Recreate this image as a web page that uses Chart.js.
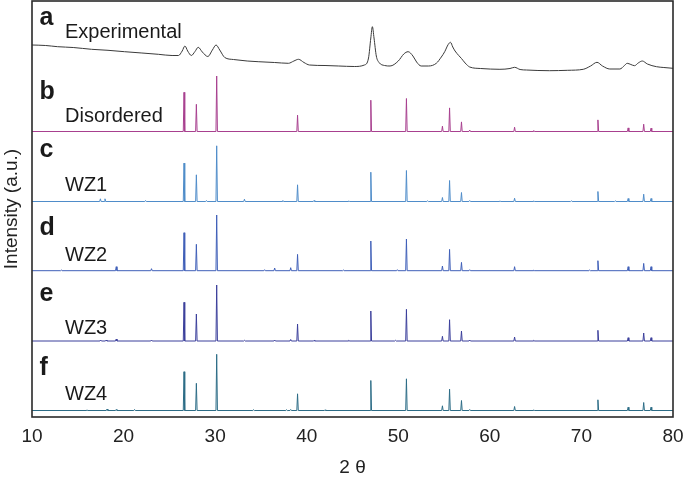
<!DOCTYPE html>
<html>
<head>
<meta charset="utf-8">
<script src="https://cdn.jsdelivr.net/npm/chart.js@4.4.0/dist/chart.umd.min.js"></script>
<style>
  body { margin: 0; background: #fff; }
  #chart { display: block; }
</style>
</head>
<body>
<canvas id="chart" width="685" height="480"></canvas>
<script>
// x ticks (2 theta, degrees)
const xTicks = [10, 20, 30, 40, 50, 60, 70, 80];

// Experimental pattern (a), intensity in a.u.
const expX = [10.0, 11.5, 12.8, 14.5, 16.5, 18.3, 20.1, 22.0, 23.8, 25.3, 26.0, 26.4, 26.7, 27.0, 27.4, 27.8, 28.15, 28.6, 29.2, 29.7,
  30.1, 30.5, 31.05, 32.0, 33.5, 34.7, 36.5, 38.0, 38.6, 39.1, 39.7, 40.3, 42.0, 43.5, 45.2, 46.3, 46.75, 47.0, 47.17, 47.35,
  47.6, 47.9, 48.5, 49.1, 50.0, 50.6, 51.07, 51.6, 52.0, 52.5, 53.3, 54.15, 54.7, 55.07, 55.45, 55.7, 55.95, 56.2, 56.6, 56.9,
  57.3, 57.8, 59.0, 61.1, 62.2, 62.7, 63.3, 64.0, 66.5, 68.5, 70.2, 71.0, 71.7, 72.3, 73.1, 74.2, 74.7, 75.0, 75.4, 75.8,
  76.2, 76.65, 77.2, 78.2, 79.0, 80.0];
const expY = [372, 371.5, 370.3, 369.5, 367.7, 366.7, 365.3, 364, 362.7, 361.5, 361.5, 366, 371, 366, 361.5, 365.5, 369.7, 365, 360.5, 367,
  372, 367, 359.5, 357.5, 356, 355.3, 354.5, 353.7, 356, 357.7, 354.5, 352, 351.5, 351, 350.5, 352, 359, 379, 390.3, 379,
  361, 354.5, 351.5, 351, 356, 363, 365.3, 361, 355, 351, 351, 353.7, 360, 365.3, 372.5, 374.7, 370, 366, 361.5, 358.5,
  354, 350, 348.5, 347.7, 348.5, 349.7, 347.5, 347, 346.3, 346.7, 347.7, 351, 354.7, 351, 348, 348, 351.5, 353.7, 352.5, 351.3,
  354, 356, 353, 350.3, 349.5, 348.7];

// Main reflections shared by the simulated patterns
const mainPeaks = [26.6, 27.95, 30.17, 39.0, 47.0, 50.89, 54.82, 55.6, 56.9, 57.8, 62.7, 64.8, 71.8, 75.1, 76.8, 77.6];
const disorderedH = [39.2, 27.2, 55.5, 16.3, 31.3, 33, 5.3, 23.6, 9.6, 1.5, 4.3, 1, 11.6, 3.6, 7.3, 3.3];
const wz1H = [38.4, 26.7, 55.7, 16.7, 29.3, 31, 4, 21, 9, 1, 3.3, 0.7, 10, 3, 7.3, 3];
const wz2H = [38, 26.4, 55.7, 16.3, 29.7, 31.7, 4.7, 21.3, 8.3, 1, 4, 0.7, 10, 4, 7.3, 4];
const wz3H = [38.7, 27, 56, 17, 30, 31.7, 4.7, 21.3, 10, 1, 4, 0.7, 10.7, 3.3, 8, 3.3];
const wz4H = [38.8, 27.2, 56.2, 16.7, 30, 31.7, 4.7, 21.3, 10, 1, 4, 0.7, 10.7, 3.3, 8, 3.3];

// Weak extra reflections of each ordered model
const wz1MinorPos = [17.47, 17.97, 22.4, 29.05, 33.2, 37.4, 40.8, 44.6, 53.2, 61.1, 68.9, 73.7];
const wz1MinorH = [2.7, 2.7, 1, 1, 2.3, 1, 1, 0.7, 0.7, 0.7, 0.7, 0.7];
const wz2MinorPos = [13.2, 19.2, 23.05, 35.4, 36.5, 38.25, 44.0, 49.9, 70.9];
const wz2MinorH = [0.7, 4, 2, 1, 2.7, 3, 0.7, 1, 0.7];
const wz3MinorPos = [17.5, 18.1, 19.2, 23.05, 33.2, 36.5, 38.25, 40.8, 44.6, 49.7];
const wz3MinorH = [1, 1, 2, 1, 0.7, 1, 1.5, 0.7, 0.7, 0.7];
const wz4MinorPos = [16.0, 18.2, 19.2, 21.2, 34.2, 37.8, 38.25, 42.0];
const wz4MinorH = [0.7, 1.5, 1, 1, 0.7, 0.7, 1, 0.7];

// vertical offsets of the stacked patterns (a.u.)
const offsets = [285.5, 215.5, 146.3, 76, 6.5];
const seriesNames = ['Disordered', 'WZ1', 'WZ2', 'WZ3', 'WZ4'];
const seriesColors = ['#a8408f', '#4f8cc9', '#3f5fb8', '#3b3f9b', '#2c6c86'];
const panelLetters = ['a', 'b', 'c', 'd', 'e', 'f'];
const panelNames = ['Experimental', 'Disordered', 'WZ1', 'WZ2', 'WZ3', 'WZ4'];

function stickPattern(heights, minorPos, minorH, base) {
  const peaks = mainPeaks.map((p, i) => [p, heights[i]])
    .concat(minorPos.map((p, i) => [p, minorH[i]]))
    .sort((a, b) => a[0] - b[0]);
  const w = 0.08;
  const pts = [{ x: 10, y: base }];
  peaks.forEach(([p, h]) => {
    pts.push({ x: p - w, y: base });
    pts.push({ x: p, y: base + h });
    pts.push({ x: p + w, y: base });
  });
  pts.push({ x: 80, y: base });
  return pts;
}

const simData = [
  stickPattern(disorderedH, [], [], offsets[0]),
  stickPattern(wz1H, wz1MinorPos, wz1MinorH, offsets[1]),
  stickPattern(wz2H, wz2MinorPos, wz2MinorH, offsets[2]),
  stickPattern(wz3H, wz3MinorPos, wz3MinorH, offsets[3]),
  stickPattern(wz4H, wz4MinorPos, wz4MinorH, offsets[4]),
];

const datasets = [{
  label: 'Experimental',
  data: expX.map((x, i) => ({ x: x, y: expY[i] })),
  borderColor: '#3a3a3a',
  borderWidth: 1,
  pointRadius: 0,
  cubicInterpolationMode: 'monotone',
}].concat(simData.map((d, i) => ({
  label: seriesNames[i],
  data: d,
  borderColor: seriesColors[i],
  borderWidth: 1,
  pointRadius: 0,
  tension: 0,
})));

const FONT = 'Liberation Sans, Arial, Helvetica, sans-serif';

// frame + panel labels
const annotate = {
  id: 'annotate',
  afterDraw(chart) {
    const { ctx, chartArea } = chart;
    ctx.save();
    ctx.strokeStyle = '#2a2a2a';
    ctx.lineWidth = 1.6;
    ctx.strokeRect(chartArea.left, chartArea.top, chartArea.right - chartArea.left, chartArea.bottom - chartArea.top);

    const letterBase = [24.5, 98.5, 157, 235, 300.5, 375];
    const nameBase = [37.5, 121.5, 191, 260.5, 333.5, 400];
    ctx.fillStyle = '#1a1a1a';
    ctx.textBaseline = 'alphabetic';
    ctx.textAlign = 'left';
    panelLetters.forEach((l, i) => {
      ctx.font = 'bold 25px ' + FONT;
      ctx.fillText(l, 39.5, letterBase[i]);
      ctx.font = '20px ' + FONT;
      ctx.fillText(panelNames[i], 65, nameBase[i]);
    });
    ctx.restore();
  }
};

new Chart(document.getElementById('chart').getContext('2d'), {
  type: 'line',
  data: { datasets: datasets },
  options: {
    responsive: false,
    animation: false,
    layout: { padding: { top: 1, right: 0, left: 0, bottom: 0 } },
    plugins: { legend: { display: false }, tooltip: { enabled: false } },
    scales: {
      x: {
        type: 'linear',
        min: 10,
        max: 80,
        afterBuildTicks: (scale) => { scale.ticks = xTicks.map(v => ({ value: v })); },
        afterFit: (scale) => { scale.height = 63; scale.paddingRight = 12; },
        grid: { display: false, drawTicks: false },
        border: { display: false },
        ticks: { color: '#222', padding: 8, font: { family: FONT, size: 19 } },
        title: { display: true, text: '2 θ', color: '#222', padding: { top: 0, bottom: 1 }, font: { family: FONT, size: 19 } },
      },
      y: {
        min: 0,
        max: 416,
        afterFit: (scale) => { scale.width = 32; },
        grid: { display: false, drawTicks: false },
        border: { display: false },
        ticks: { display: false },
        title: { display: true, text: 'Intensity (a.u.)', color: '#222', padding: 0, font: { family: FONT, size: 19 } },
      },
    },
  },
  plugins: [annotate],
});
</script>
</body>
</html>
